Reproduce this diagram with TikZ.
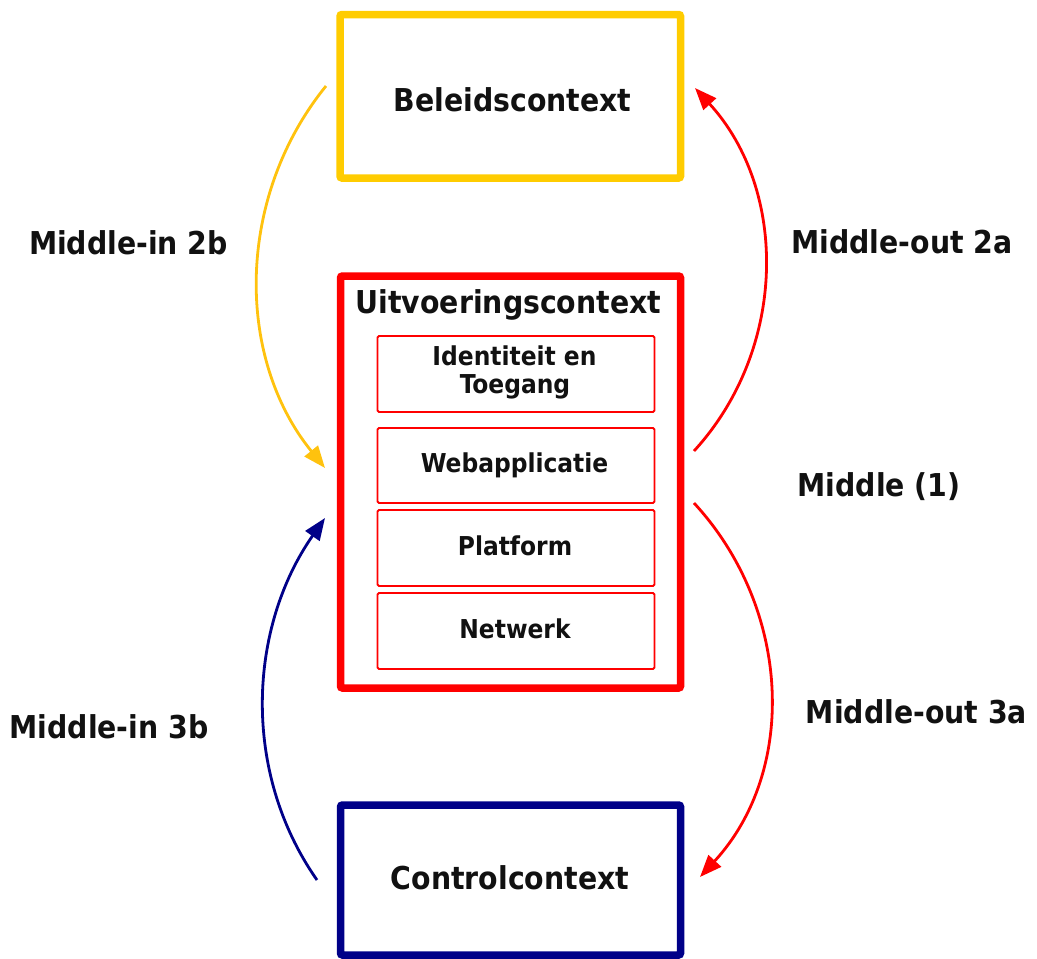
\documentclass[tikz,border=0pt]{standalone}
\usepackage{fontspec}
\setmainfont{DejaVu Sans Condensed}
\usetikzlibrary{arrows.meta}
\definecolor{boxyellow}{HTML}{FFCC00}
\definecolor{arryellow}{HTML}{FFC20E}
\definecolor{boxred}{HTML}{FF0000}
\definecolor{boxnavy}{HTML}{000088}
\definecolor{txt}{HTML}{111111}
\begin{document}
\begin{tikzpicture}[x=1pt,y=-1pt,
  bigbox/.style={draw, line width=7.5pt, rounded corners=2pt, inner sep=0pt, outer sep=0pt},
  layerbox/.style={draw=boxred, line width=1.8pt, rounded corners=1.5pt, inner sep=0pt,
    minimum width=277pt, minimum height=75pt},
  bigtxt/.style={font=\bfseries\fontsize{31.5}{36}\selectfont, text=txt, anchor=base, inner sep=0pt},
  smalltxt/.style={font=\bfseries\fontsize{26}{28}\selectfont, text=txt, anchor=base, inner sep=0pt},
  conn/.style={line width=2.8pt, -{Triangle[length=22pt,width=17pt]}}
]
\useasboundingbox (0,0) rectangle (1037,959);

% boxes
\node[bigbox, draw=boxyellow, minimum width=340.5pt, minimum height=163.5pt] (beleid) at (510.25,96.25) {};
\node[bigbox, draw=boxred, minimum width=340pt, minimum height=412pt] (uitv) at (510.5,482) {};
\node[bigbox, draw=boxnavy, minimum width=340pt, minimum height=150pt] (control) at (510.5,880) {};

\node[layerbox, minimum height=76pt] (ident) at (516,374) {};
\node[layerbox] (web) at (516,465.5) {};
\node[layerbox, minimum height=76pt] (platform) at (516,548) {};
\node[layerbox, minimum height=76pt] (netwerk) at (516,631) {};

% box texts
\node[bigtxt] (tbeleid) at (512.5,111) {Beleidscontext};
\node[bigtxt] (tuitv) at (508.5,313) {Uitvoeringscontext};
\node[bigtxt] (tcontrol) at (510,889) {Controlcontext};
\node[smalltxt] (tident1) at (514.5,365) {Identiteit en};
\node[smalltxt] (tident2) at (515,393) {Toegang};
\node[smalltxt] (tweb) at (514.5,472) {Webapplicatie};
\node[smalltxt] (tplat) at (515,555) {Platform};
\node[smalltxt] (tnet) at (515,638) {Netwerk};

% side labels
\node[bigtxt] (l2b) at (128.5,254) {Middle-in 2b};
\node[bigtxt] (l2a) at (902,253) {Middle-out 2a};
\node[bigtxt] (l1) at (879,496) {Middle (1)};
\node[bigtxt] (l3b) at (109,738) {Middle-in 3b};
\node[bigtxt] (l3a) at (916.5,723) {Middle-out 3a};

% connector end points
\coordinate (y1) at (326,86);
\coordinate (y2) at (325,468);
\coordinate (r1) at (694,451);
\coordinate (r2) at (695,88);
\coordinate (r3) at (694,503);
\coordinate (r4) at (700,877);
\coordinate (b1) at (317,880);
\coordinate (b2) at (325,518);

% connectors
\draw[conn, draw=arryellow] (y1) .. controls (236,197) and (235,357) .. (y2);
\draw[conn, draw=boxred] (r1) .. controls (787.5,349) and (788.5,190) .. (r2);
\draw[conn, draw=boxred] (r3) .. controls (791.6,608.8) and (797.6,771) .. (r4);
\draw[conn, draw=boxnavy] (b1) .. controls (240.8,771) and (248.8,627) .. (b2);
\end{tikzpicture}
\end{document}
